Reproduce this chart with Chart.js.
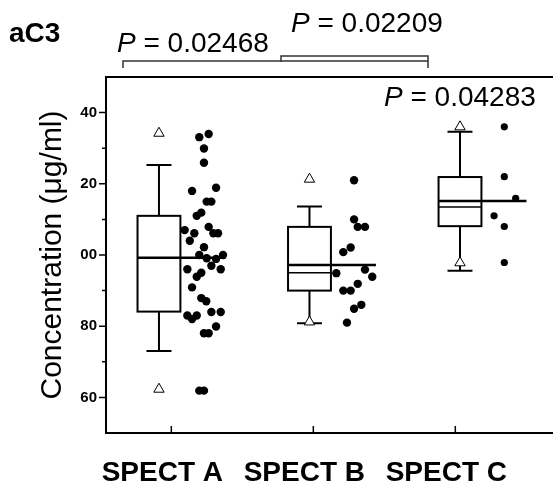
<!DOCTYPE html>
<html>
<head>
<meta charset="utf-8">
<script src="https://cdn.jsdelivr.net/npm/chart.js@4.4.0/dist/chart.umd.min.js"></script>
<style>
  html, body { margin: 0; padding: 0; background: #fff; }
  #wrap { width: 553px; height: 487px; }
</style>
</head>
<body>
<div id="wrap"><canvas id="chart"></canvas></div>
<script>
// 数据
const categories = ['SPECT A', 'SPECT B', 'SPECT C'];
const categoryTicks = [1, 2, 3];
const boxPos = [0.913, 1.973, 3.033];
const whiskerLow = [173.0, 180.8, 195.6];
const q1 = [184.1, 190.0, 208.1];
const median = [199.2, 195.0, 213.5];
const q3 = [211.0, 207.9, 221.9];
const whiskerHigh = [225.3, 213.6, 234.6];
const means = [199.2, 197.2, 215.2];
const extremeHigh = [234.2, 221.3, 236.0];
const extremeLow = [162.3, 181.2, 197.8];

const yTickValues = [160, 180, 200, 220, 240];
const yTickLabels = ['60', '80', '00', '20', '40'];
const yMinorTicks = [170, 190, 210, 230];

const pointsAx = [1.197, 1.263, 1.230, 1.230, 1.146, 1.315, 1.249, 1.282, 1.179, 1.211,
                  1.263, 1.094, 1.162, 1.296, 1.329, 1.130, 1.230, 1.197, 1.315, 1.249,
                  1.364, 1.282, 1.113, 1.348, 1.179, 1.211, 1.146, 1.211, 1.246, 1.113,
                  1.146, 1.179, 1.282, 1.348, 1.230, 1.263, 1.315, 1.197, 1.230];
const pointsAy = [233.1, 234.0, 229.9, 225.9, 218.0, 218.9, 215.0, 215.0, 211.0, 211.9,
                  207.9, 207.0, 206.1, 206.1, 206.1, 204.0, 202.2, 200.0, 198.9, 199.1,
                  200.0, 197.0, 196.0, 196.0, 193.9, 195.0, 190.9, 187.9, 187.0, 183.0,
                  182.0, 183.0, 184.0, 184.0, 178.0, 178.0, 179.9, 161.9, 161.9];
const pointsBx = [2.287, 2.287, 2.313, 2.364, 2.211, 2.263, 2.162, 2.364, 2.415, 2.313,
                  2.211, 2.263, 2.287, 2.338, 2.237];
const pointsBy = [221.0, 210.0, 207.9, 207.9, 200.8, 202.1, 194.9, 195.9, 193.9, 191.9,
                  190.0, 190.0, 184.9, 186.0, 181.0];
const pointsCx = [3.345, 3.345, 3.425, 3.273, 3.345, 3.345];
const pointsCy = [236.0, 222.0, 215.9, 211.0, 208.0, 197.9];

// 显著性标注
const pValues = ['0.02468', '0.02209', '0.04283'];

const FONT = '"Liberation Sans", Arial, sans-serif';
const BOX_HALF = 0.151;
const CAP_HALF = 0.088;
const MEAN_RIGHT = 0.468;

function toXY(xs, ys) {
    return xs.map((x, i) => ({ x: x, y: ys[i] }));
}

/**
 * 画箱线图、坐标刻度和P值标注
 */
const boxPlugin = {
    id: 'boxPlugin',
    beforeDatasetsDraw(chart) {
        const ctx = chart.ctx;
        const xs = chart.scales.x, ys = chart.scales.y;
        ctx.save();
        ctx.strokeStyle = '#000';
        ctx.lineCap = 'butt';
        boxPos.forEach((p, i) => {
            const cx = xs.getPixelForValue(p);
            const l = xs.getPixelForValue(p - BOX_HALF);
            const r = xs.getPixelForValue(p + BOX_HALF);
            const yq1 = ys.getPixelForValue(q1[i]);
            const yq3 = ys.getPixelForValue(q3[i]);
            // 须
            ctx.lineWidth = 2;
            ctx.beginPath();
            ctx.moveTo(cx, yq3); ctx.lineTo(cx, ys.getPixelForValue(whiskerHigh[i]));
            ctx.moveTo(cx, yq1); ctx.lineTo(cx, ys.getPixelForValue(whiskerLow[i]));
            [whiskerHigh[i], whiskerLow[i]].forEach(v => {
                const yy = ys.getPixelForValue(v);
                ctx.moveTo(xs.getPixelForValue(p - CAP_HALF), yy);
                ctx.lineTo(xs.getPixelForValue(p + CAP_HALF), yy);
            });
            ctx.stroke();
            // 箱体
            ctx.fillStyle = '#fff';
            ctx.fillRect(l, yq3, r - l, yq1 - yq3);
            ctx.strokeRect(l, yq3, r - l, yq1 - yq3);
            // 中位数
            ctx.lineWidth = 1.5;
            ctx.beginPath();
            const ym = ys.getPixelForValue(median[i]);
            ctx.moveTo(l, ym); ctx.lineTo(r, ym);
            ctx.stroke();
            // 均值线
            ctx.lineWidth = 2.5;
            ctx.beginPath();
            const ymean = ys.getPixelForValue(means[i]);
            ctx.moveTo(l, ymean); ctx.lineTo(xs.getPixelForValue(p + MEAN_RIGHT), ymean);
            ctx.stroke();
        });
        ctx.restore();
    },
    afterDraw(chart) {
        const ctx = chart.ctx;
        const xs = chart.scales.x, ys = chart.scales.y;
        const area = chart.chartArea;
        ctx.save();
        ctx.strokeStyle = '#000';
        // 上边框
        ctx.lineWidth = 2;
        ctx.beginPath();
        ctx.moveTo(area.left - 1, area.top);
        ctx.lineTo(chart.width, area.top);
        ctx.stroke();
        // Y刻度（向外）
        ctx.lineWidth = 1.5;
        ctx.beginPath();
        yTickValues.forEach(v => {
            const y = ys.getPixelForValue(v);
            ctx.moveTo(area.left - 7, y); ctx.lineTo(area.left, y);
        });
        yMinorTicks.forEach(v => {
            const y = ys.getPixelForValue(v);
            ctx.moveTo(area.left - 4, y); ctx.lineTo(area.left, y);
        });
        // X刻度（向内）
        categoryTicks.forEach(v => {
            const x = xs.getPixelForValue(v);
            ctx.moveTo(x, area.bottom); ctx.lineTo(x, area.bottom - 7);
        });
        ctx.stroke();

        // 面板标签
        ctx.fillStyle = '#000';
        ctx.textBaseline = 'alphabetic';
        ctx.font = 'bold 28px ' + FONT;
        ctx.fillText('aC3', 9, 42);

        // P值
        function drawP(text, x, y) {
            ctx.font = 'italic 28px ' + FONT;
            ctx.fillText('P', x, y);
            const w = ctx.measureText('P').width;
            ctx.font = '28px ' + FONT;
            ctx.fillText(' = ' + text, x + w, y);
        }
        drawP(pValues[0], 117, 52);
        drawP(pValues[1], 291, 32);
        drawP(pValues[2], 384, 106);

        // 括号
        ctx.strokeStyle = '#333';
        ctx.lineWidth = 1.5;
        ctx.beginPath();
        ctx.moveTo(123, 68); ctx.lineTo(123, 61); ctx.lineTo(428, 61); ctx.lineTo(428, 68);
        ctx.moveTo(281, 62); ctx.lineTo(281, 56); ctx.lineTo(428, 56); ctx.lineTo(428, 62);
        ctx.stroke();
        ctx.restore();
    }
};

const ctx = document.getElementById('chart').getContext('2d');
new Chart(ctx, {
    type: 'scatter',
    data: {
        datasets: [
            {
                label: 'SPECT A',
                data: toXY(pointsAx, pointsAy),
                pointRadius: 4.2,
                backgroundColor: '#000',
                borderColor: '#000',
                borderWidth: 0
            },
            {
                label: 'SPECT B',
                data: toXY(pointsBx, pointsBy),
                pointRadius: 4.2,
                backgroundColor: '#000',
                borderColor: '#000',
                borderWidth: 0
            },
            {
                label: 'SPECT C',
                data: toXY(pointsCx, pointsCy),
                pointRadius: 3.6,
                backgroundColor: '#000',
                borderColor: '#000',
                borderWidth: 0
            },
            {
                label: 'extremes',
                data: toXY(boxPos.concat(boxPos), extremeHigh.concat(extremeLow)),
                pointStyle: 'triangle',
                pointRadius: 6,
                backgroundColor: '#fff',
                borderColor: '#000',
                borderWidth: 1
            }
        ]
    },
    options: {
        responsive: true,
        maintainAspectRatio: false,
        animation: false,
        layout: { autoPadding: false, padding: { top: 77, left: 0, right: 0, bottom: 0 } },
        plugins: {
            legend: { display: false },
            tooltip: { enabled: false }
        },
        scales: {
            x: {
                type: 'linear',
                min: 0.54,
                max: 3.688,
                afterBuildTicks: axis => { axis.ticks = categoryTicks.map(v => ({ value: v })); },
                afterFit: scale => { scale.height = 54; },
                grid: { display: false, drawTicks: false },
                border: { display: true, color: '#000', width: 2 },
                ticks: {
                    padding: 23,
                    labelOffset: -9,
                    color: '#000',
                    font: { family: FONT, size: 28, weight: 'bold' },
                    callback: (v) => categories[categoryTicks.indexOf(v)] || ''
                }
            },
            y: {
                type: 'linear',
                min: 150,
                max: 250,
                afterBuildTicks: axis => { axis.ticks = yTickValues.map(v => ({ value: v })); },
                afterFit: scale => { scale.width = 106; },
                grid: { display: false, drawTicks: false },
                border: { display: true, color: '#000', width: 2 },
                ticks: {
                    padding: 9,
                    color: '#000',
                    font: { family: FONT, size: 15, weight: 'bold' },
                    callback: (v) => yTickLabels[yTickValues.indexOf(v)]
                },
                title: {
                    display: true,
                    text: 'Concentration (μg/ml)',
                    color: '#000',
                    font: { family: FONT, size: 30 },
                    padding: { top: 35, bottom: 0 }
                }
            }
        }
    },
    plugins: [boxPlugin]
});
</script>
</body>
</html>
